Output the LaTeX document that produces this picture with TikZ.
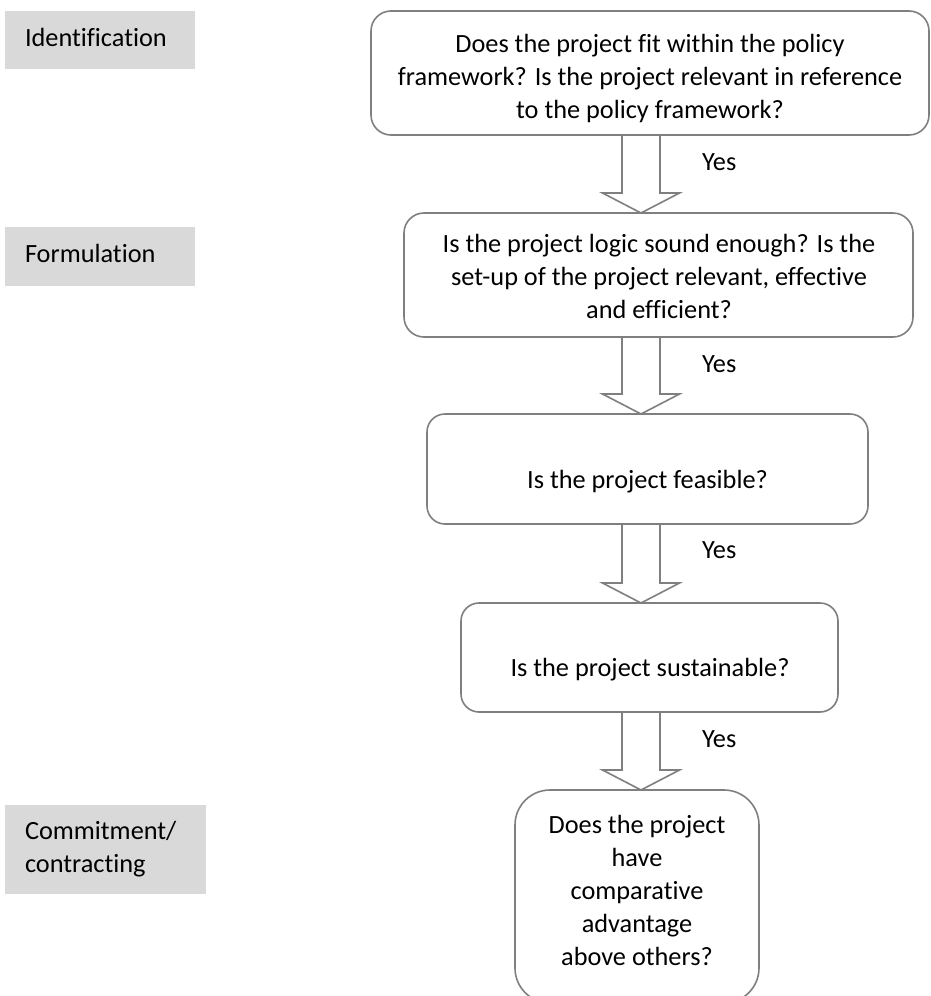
\documentclass[tikz,border=0pt]{standalone}
\usepackage{fontspec}
\setmainfont{Carlito}[Ligatures=CommonOff]
\usetikzlibrary{calc}
\definecolor{edgegrey}{HTML}{7F7F7F}
\definecolor{phasegrey}{HTML}{D9D9D9}

% hollow block arrow from the bottom of one question to the top of the next
\newcommand\yesarrow[2]{%
  \path (#1.south -| axis) coordinate (#1-out)
        (#2.north -| axis) coordinate (#2-in);
  \draw[hollow] ([xshift=-19pt]#1-out)
    -- ([xshift=-19pt,yshift=20pt]#2-in)
    -- ([xshift=-38.5pt,yshift=20pt]#2-in)
    -- (#2-in)
    -- ([xshift=38.5pt,yshift=20pt]#2-in)
    -- ([xshift=19pt,yshift=20pt]#2-in)
    -- ([xshift=19pt]#1-out);}

\begin{document}
\begin{tikzpicture}[x=1pt,y=-1pt,
  every node/.style={inner sep=0pt, outer sep=0pt,
    font=\fontsize{26.3}{33}\selectfont},
  question/.style={draw=edgegrey, line width=1.6pt, fill=white,
    rounded corners=#1},
  question/.default=20pt,
  % multi-line texts are placed by the baseline of their last line
  qtext/.style={anchor=base, align=center},
  phase/.style={fill=phasegrey, anchor=north west},
  phasetext/.style={anchor=base west, align=left},
  yeslabel/.style={anchor=base west},
  hollow/.style={draw=edgegrey, line width=1.6pt, line join=miter}]

\clip (0,0) rectangle (931,996);
\fill[white] (0,0) rectangle (931,996);

% project cycle phases
\node[phase, minimum width=190pt, minimum height=58pt] (p1) at (5,11) {};
\node[phasetext] (pt1) at (25,46) {Identification};
\node[phase, minimum width=190pt, minimum height=59pt] (p2) at (5,227) {};
\node[phasetext] (pt2) at (25,262) {Formulation};
\node[phase, minimum width=201pt, minimum height=89pt] (p3) at (5,805) {};
\node[phasetext] (pt3) at (25,872) {Commitment/\\contracting};

% question boxes
\node[question, minimum width=558pt, minimum height=124pt] (b1) at (650,73) {};
\node[question, minimum width=509pt, minimum height=124pt] (b2) at (658.5,275) {};
\node[question=18pt, minimum width=441pt, minimum height=110pt] (b3) at (647.5,469) {};
\node[question=18pt, minimum width=377pt, minimum height=109pt] (b4) at (649.5,657.5) {};
\node[question=35pt, minimum width=244pt, minimum height=213pt] (b5) at (637,896.5) {};

\node[qtext] (t1) at (650,118) {Does the project fit within the policy\\framework? Is the project relevant in reference\\to the policy framework?};
\node[qtext] (t2) at (659,318) {Is the project logic sound enough? Is the\\set-up of the project relevant, effective\\and efficient?};
\node[qtext] (t3) at (647.5,488) {Is the project feasible?};
\node[qtext] (t4) at (650,676) {Is the project sustainable?};
\node[qtext] (t5) at (637,965) {Does the project\\have\\comparative\\advantage\\above others?};

% connectors
\coordinate (axis) at (641,0);
\yesarrow{b1}{b2}
\yesarrow{b2}{b3}
\yesarrow{b3}{b4}
\yesarrow{b4}{b5}

\node[yeslabel] (y1) at (702,170) {Yes};
\node[yeslabel] (y2) at (702,372) {Yes};
\node[yeslabel] (y3) at (702,558) {Yes};
\node[yeslabel] (y4) at (702,747) {Yes};
\end{tikzpicture}
\end{document}
